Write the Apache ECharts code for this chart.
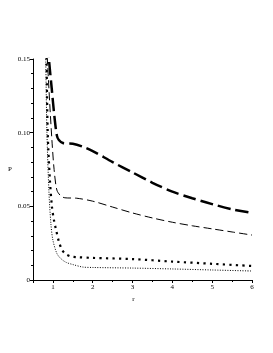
<!DOCTYPE html>
<html>
<head>
<meta charset="utf-8">
<script src="https://cdn.jsdelivr.net/npm/echarts@6/dist/echarts.min.js"></script>
<style>html,body{margin:0;padding:0;background:#fff}#c{width:273px;height:353px}</style>
</head>
<body>
<div id="c"></div>
<script>
// thick long dash
const r1 = [0.88, 0.90, 0.97, 1.03, 1.10, 1.15, 1.25, 1.5, 1.75, 2, 2.5, 3, 3.5, 4, 4.5, 5, 5.5, 6];
const p1 = [0.160, 0.150, 0.130, 0.113, 0.098, 0.095, 0.093, 0.0925, 0.0905, 0.0875, 0.080, 0.073, 0.066, 0.060, 0.0555, 0.0515, 0.048, 0.0455];
// medium dash
const r2 = [0.84, 0.86, 0.92, 0.975, 1.03, 1.10, 1.20, 1.30, 1.6, 2, 2.5, 3, 3.5, 4, 4.5, 5, 5.5, 6];
const p2 = [0.160, 0.150, 0.120, 0.095, 0.075, 0.061, 0.057, 0.0558, 0.0555, 0.0535, 0.0495, 0.0455, 0.0421, 0.0392, 0.0368, 0.0347, 0.0326, 0.0305];
// thick dots
const r3 = [0.835, 0.84, 0.87, 0.92, 0.975, 1.03, 1.08, 1.15, 1.22, 1.30, 1.45, 1.6, 2, 3, 4, 5, 6];
const p3 = [0.160, 0.150, 0.100, 0.070, 0.050, 0.040, 0.034, 0.026, 0.021, 0.018, 0.016, 0.0155, 0.015, 0.0142, 0.0125, 0.011, 0.0095];
// fine dots
const r4 = [0.815, 0.82, 0.85, 0.90, 0.95, 1.0, 1.1, 1.2, 1.33, 1.5, 1.75, 2, 3, 4, 5, 6];
const p4 = [0.160, 0.150, 0.100, 0.060, 0.038, 0.027, 0.018, 0.0145, 0.012, 0.0105, 0.0088, 0.0085, 0.0081, 0.0075, 0.0068, 0.0061];

const yTicks = ['0', '0.05', '0.10', '0.15'];

const zip = (a, b) => a.map((v, i) => [v, b[i]]);
const font = 'Liberation Serif';
const chart = echarts.init(document.getElementById('c'), null, {renderer: 'canvas'});
chart.setOption({
  backgroundColor: '#fff',
  animation: false,
  grid: {left: 33, right: 21, top: 59, bottom: 73},
  xAxis: {
    type: 'value', min: 0.5, max: 6, splitNumber: 5,
    name: 'r', nameLocation: 'middle', nameGap: 13,
    nameTextStyle: {fontFamily: font, fontSize: 7, color: '#000', padding: [0, 18, 0, 0]},
    axisLine: {lineStyle: {color: '#000', width: 1}},
    axisTick: {length: 3, lineStyle: {color: '#000'}},
    minorTick: {show: true, splitNumber: 2, length: 2, lineStyle: {color: '#000'}},
    axisLabel: {fontFamily: font, fontSize: 7, color: '#000', margin: 4,
      formatter: v => (Math.abs(v - Math.round(v)) < 1e-9 ? String(Math.round(v)) : '')},
    splitLine: {show: false}
  },
  yAxis: {
    type: 'value', min: 0, max: 0.15, interval: 0.05,
    name: 'P', nameLocation: 'middle', nameGap: 19, nameRotate: 0,
    nameTextStyle: {fontFamily: font, fontSize: 7, color: '#000'},
    axisLine: {show: true, lineStyle: {color: '#000', width: 1}},
    axisTick: {show: true, length: 3, lineStyle: {color: '#000'}},
    minorTick: {show: true, splitNumber: 5, length: 2, lineStyle: {color: '#000'}},
    axisLabel: {fontFamily: font, fontSize: 7, color: '#000', margin: 3,
      formatter: v => yTicks[Math.round(v / 0.05)]},
    splitLine: {show: false}
  },
  series: [
    {type: 'line', data: zip(r1, p1), smooth: 0.3, showSymbol: false, clip: true,
      lineStyle: {color: '#000', width: 2.5, type: [13, 5]}},
    {type: 'line', data: zip(r2, p2), smooth: 0.3, showSymbol: false, clip: true,
      lineStyle: {color: '#000', width: 1, type: [8, 4]}},
    {type: 'line', data: zip(r3, p3), smooth: 0.3, showSymbol: false, clip: true,
      lineStyle: {color: '#000', width: 2.2, type: [2.2, 4.3]}},
    {type: 'line', data: zip(r4, p4), smooth: 0.3, showSymbol: false, clip: true,
      lineStyle: {color: '#000', width: 1, type: [1, 1.5]}}
  ]
});
</script>
</body>
</html>
